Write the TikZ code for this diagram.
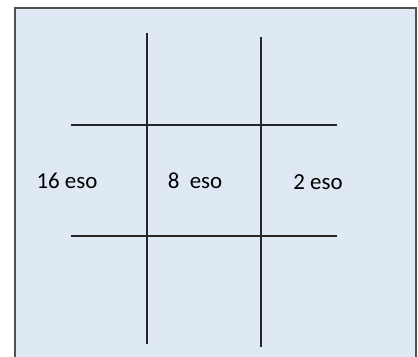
\documentclass[tikz,border=0pt]{standalone}
\usepackage{fontspec}
\setmainfont{Carlito}
\definecolor{bgblue}{HTML}{DFE9F4}
\definecolor{frame}{HTML}{505050}
\tikzset{
  gridline/.style={line width=1.6pt, draw=black!85},
  lbl/.style={font=\fontsize{23}{25}\selectfont, inner sep=0pt, anchor=center}
}
\begin{document}
\begin{tikzpicture}[x=1bp,y=-1bp]
\useasboundingbox (0,0) rectangle (418,357);
\fill[white] (0,0) rectangle (418,357);
\begin{scope}
\clip (0,0) rectangle (418,357);
\draw[fill=bgblue, draw=frame, line width=2pt] (15,8) rectangle (416,365);
\end{scope}
% vertical lines
\coordinate (v1t) at (147,33);
\coordinate (v1b) at (147,344);
\coordinate (v2t) at (261,37);
\coordinate (v2b) at (261,347);
% horizontal lines
\coordinate (h1l) at (71,125);
\coordinate (h1r) at (337,125);
\coordinate (h2l) at (71,236);
\coordinate (h2r) at (337,236);
\draw[gridline] (v1t) -- (v1b);
\draw[gridline] (v2t) -- (v2b);
\draw[gridline] (h1l) -- (h1r);
\draw[gridline] (h2l) -- (h2r);
\node[lbl] (a) at (67,181) {16 eso};
\node[lbl] (b) at (195,181) {8\ \ eso};
\node[lbl] (c) at (318,182) {2 eso};
\end{tikzpicture}
\end{document}
